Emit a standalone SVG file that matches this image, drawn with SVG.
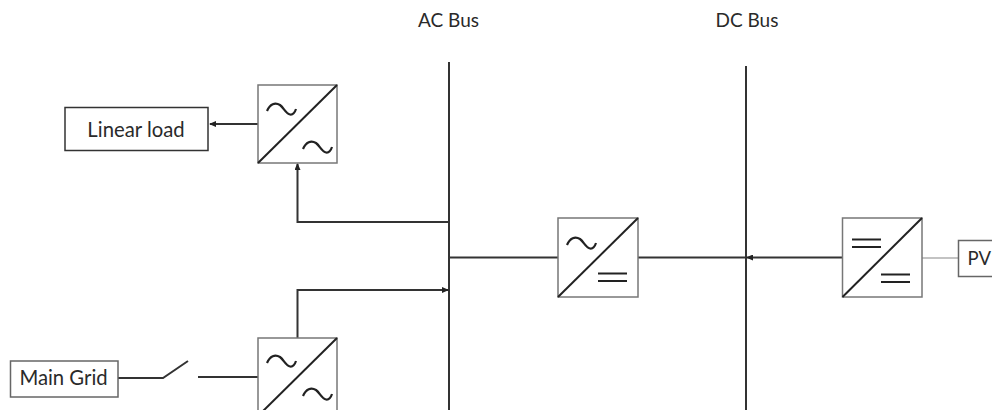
<svg xmlns="http://www.w3.org/2000/svg" width="992" height="410" viewBox="0 0 992 410">
<style>
text{font-family:Lato,"Open Sans","Liberation Sans",sans-serif;font-size:20.300px;fill:#2a2a2a}
text.bl{font-size:19px}
text.pv{font-size:18.500px}
.box{fill:#fff;stroke:#666;stroke-width:1.500}
.load{fill:#fff;stroke:#333;stroke-width:1.500}
.conv{fill:#fff;stroke:#777;stroke-width:1.500}
.diag{stroke:#222;stroke-width:2;fill:none}
.sym{stroke:#222;stroke-width:2.200;fill:none}
.bus{stroke:#333;stroke-width:2;fill:none}
.wire{stroke:#333;stroke-width:2;fill:none}
</style>
<defs>
<marker id="a" markerWidth="7" markerHeight="6" refX="6" refY="3" orient="auto" markerUnits="userSpaceOnUse"><path d="M0 0L7 3L0 6Z" fill="#222"/></marker>
<g id="tilde"><path class="sym" d="M0 9C3 2 8 0 13 3C17 6 19 12 23 12.500C26 13 28 10 29 7"/></g>
<g id="eq"><path class="sym" d="M0 0H29M0 7.500H29"/></g>
</defs>
<rect width="992" height="410" fill="#fff"/>
<g id="connectors">
<path class="bus" d="M449 62V410"/>
<path class="bus" d="M746 66V410"/>
<path class="wire" d="M258 124H210" marker-end="url(#a)"/>
<path class="wire" d="M449 222H297.500V164" marker-end="url(#a)"/>
<path class="wire" d="M297.500 338V290H448" marker-end="url(#a)"/>
<path class="wire" d="M449 257.500H558"/>
<path class="wire" d="M638 257.500H746"/>
<path class="wire" d="M842 257.500H747" marker-end="url(#a)"/>
<path d="M922 258H958" stroke="#888" stroke-width="1.200" fill="none"/>
<path class="wire" d="M118 378H163L188 361"/>
<path class="wire" d="M198 377H258"/>
</g>
<g id="ac-bus-label"><text class="bl" x="448.500" y="26.500" text-anchor="middle">AC Bus</text></g>
<g id="dc-bus-label"><text class="bl" x="747" y="26.500" text-anchor="middle">DC Bus</text></g>
<g id="linear-load"><rect class="load" x="65" y="107.500" width="143" height="43"/><text x="136" y="137" text-anchor="middle">Linear load</text></g>
<g id="main-grid"><rect class="box" x="10.500" y="361" width="107.500" height="36"/><text x="63.500" y="385" text-anchor="middle">Main Grid</text></g>
<g id="pv"><rect class="box" x="958.500" y="240.500" width="40" height="36"/><text class="pv" x="967.500" y="264.500">PV</text></g>
<g id="conv-load"><rect class="conv" x="258" y="85" width="79" height="78"/><path class="diag" d="M258 163L337 85"/><use href="#tilde" x="267" y="102"/><use href="#tilde" x="303" y="140"/></g>
<g id="conv-grid"><rect class="conv" x="258" y="338" width="79" height="78"/><path class="diag" d="M258 416L337 338"/><use href="#tilde" x="267" y="354"/><use href="#tilde" x="303" y="387"/></g>
<g id="conv-mid"><rect class="conv" x="558" y="218" width="80" height="79"/><path class="diag" d="M558 297L638 218"/><use href="#tilde" x="567" y="236"/><use href="#eq" x="598" y="273.500"/></g>
<g id="conv-pv"><rect class="conv" x="842.500" y="218" width="79.500" height="79"/><path class="diag" d="M842.500 297L922 218"/><use href="#eq" x="852" y="239.500"/><use href="#eq" x="881" y="274.500"/></g>
</svg>
